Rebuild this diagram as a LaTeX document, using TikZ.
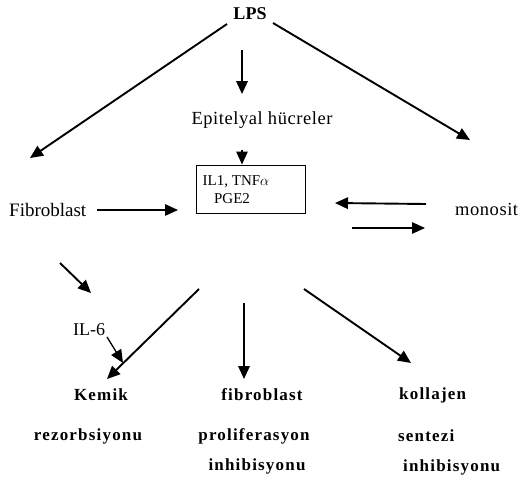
\documentclass[tikz,border=0pt]{standalone}
\usepackage{fontspec}
\setmainfont{Liberation Serif}
\usetikzlibrary{arrows.meta}
\newfontfamily\spaced[LetterSpace=7]{Liberation Serif}
\newfontfamily\lightspaced[LetterSpace=3]{Liberation Serif}
\tikzset{
  lbl/.style={inner sep=0pt, font=\fontsize{19}{21}\selectfont},
  blbl/.style={inner sep=0pt, font=\fontsize{17}{19}\selectfont\spaced\bfseries},
  arr/.style={line width=1.9pt, -{Triangle[length=13pt,width=11.5pt]}},
  thinarr/.style={line width=1.3pt, -{Triangle[length=13pt,width=11.5pt]}}
}
\begin{document}
\begin{tikzpicture}[x=1pt,y=-1pt]
\useasboundingbox (0,0) rectangle (522,482);
% nodes
\node[lbl, font=\fontsize{18}{20}\selectfont\bfseries] (lps) at (250,14) {LPS};
\node[lbl, font=\fontsize{18.5}{20}\selectfont\lightspaced] (epi) at (262,120) {Epitelyal hücreler};
\node[draw, line width=1pt, minimum width=109pt, minimum height=48pt, inner sep=0pt] (box) at (250.5,189) {};
\node[lbl, font=\fontsize{15}{16}\selectfont] (il1) at (236,182) {IL1, TNF$\alpha$};
\node[lbl, font=\fontsize{15}{16}\selectfont] (pge) at (232,199) {PGE2};
\node[lbl, anchor=west] (fib) at (9,210) {Fibroblast};
\node[lbl, anchor=west, font=\fontsize{18.5}{20}\selectfont\lightspaced] (mono) at (455,209) {monosit};
\node[lbl, anchor=west, font=\fontsize{18}{20}\selectfont] (il6) at (73,330) {IL-6};
\node[blbl] (kemik) at (101,395) {Kemik};
\node[blbl] (rez) at (88,436) {rezorbsiyonu};
\node[blbl] (fibro) at (262,395) {fibroblast};
\node[blbl] (prol) at (254,436) {proliferasyon};
\node[blbl] (inh1) at (257,466) {inhibisyonu};
\node[blbl, anchor=west] (koll) at (399,395) {kollajen};
\node[blbl, anchor=west] (sent) at (398,436) {sentezi};
\node[blbl, anchor=west] (inh2) at (403,467) {inhibisyonu};
% connector end points
\coordinate (lpsL) at (227,24);
\coordinate (fibT) at (30,158);
\coordinate (lpsR) at (273,23);
\coordinate (monoT) at (470,140);
\coordinate (lpsD) at (242,50);
\coordinate (epiT) at (242,94);
\coordinate (epiB) at (242,150);
\coordinate (fibR) at (97,210);
\coordinate (boxL) at (178,210);
\coordinate (monoL1) at (426,204);
\coordinate (boxR1) at (335,203);
\coordinate (boxR2) at (352,228);
\coordinate (monoL2) at (425,228);
\coordinate (fibB) at (60,263);
\coordinate (il6T) at (91,293);
\coordinate (il6B) at (107,337);
\coordinate (kemT1) at (123,363);
\coordinate (boxBL) at (199,289);
\coordinate (kemT2) at (107,379);
\coordinate (boxB) at (244,303);
\coordinate (fibroT) at (244,379);
\coordinate (boxBR) at (304,289);
\coordinate (kollT) at (411,363);
% connectors
\draw[arr] (lpsL) -- (fibT);
\draw[arr] (lpsR) -- (monoT);
\draw[arr] (lpsD) -- (epiT);
\draw[thinarr] (epiB) -- (box.north -| epiB);
\draw[thinarr] (fibR) -- (boxL);
\draw[arr] (monoL1) -- (boxR1);
\draw[thinarr] (boxR2) -- (monoL2);
\draw[arr] (fibB) -- (il6T);
\draw[thinarr] (il6B) -- (kemT1);
\draw[arr] (boxBL) -- (kemT2);
\draw[arr] (boxB) -- (fibroT);
\draw[arr] (boxBR) -- (kollT);
\end{tikzpicture}
\end{document}
